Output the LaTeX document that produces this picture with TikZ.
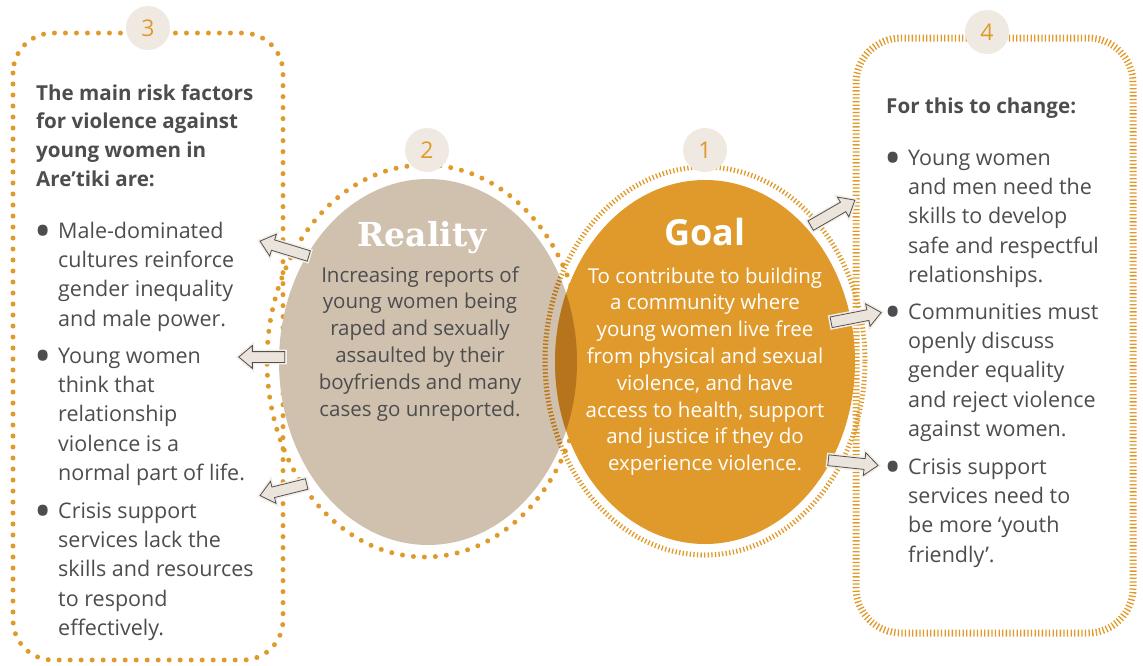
\documentclass[tikz,border=0pt]{standalone}
\usepackage{fontspec}
\setmainfont{Open Sans}
\newfontfamily\slabfont{DejaVu Serif}
\usetikzlibrary{shapes.arrows}
\definecolor{amber}{HTML}{E09A2B}
\definecolor{lens}{HTML}{B6741D}
\definecolor{sand}{HTML}{CFC1AD}
\definecolor{badgefill}{HTML}{EFE9E2}
\definecolor{inkgray}{HTML}{4D4D4F}
\definecolor{arrowfill}{HTML}{EAE4DC}
\definecolor{arrowline}{HTML}{55504B}
\definecolor{arrowhalo}{HTML}{F1EDE7}
\newcommand{\bulletmark}{\llap{\raisebox{-9.3pt}{\fontsize{46}{46}\selectfont\textbullet}\hspace{6pt}}}

\begin{document}
\begin{tikzpicture}[x=1pt,y=-1pt,
  dotline/.style={draw=amber, line width=5pt, line cap=round, dash pattern=on 0pt off 11pt},
  hatchline/.style={draw=amber, line width=#1, dash pattern=on 1.3pt off 2.3pt},
  badge/.style={circle, fill=badgefill, minimum size=44pt, inner sep=0pt, text=amber, font=\fontsize{23}{23}\selectfont},
  sidetext/.style={anchor=north west, align=left, inner sep=0pt, text=inkgray, font=\fontsize{21.5}{29.4}\selectfont},
  headtext/.style={sidetext, font=\bfseries\fontsize{20.6}{28.8}\selectfont},
  circtext/.style={anchor=north, align=center, inner sep=0pt, font=\fontsize{20.5}{26.8}\selectfont},
  flowarrow/.style={single arrow, draw=arrowline, fill=arrowfill, line width=0.8pt, inner sep=0pt, inner ysep=5pt,
    single arrow head extend=6pt, single arrow tip angle=80, minimum height=#1, preaction={draw=arrowhalo, line width=4pt}}
]
\useasboundingbox (0,0) rectangle (1143,665);

% side boxes
\draw[dotline, rounded corners=40pt] (13,33) rectangle (283,660);
\draw[hatchline=7pt, rounded corners=45pt] (856,38) rectangle (1133,633);

% reality and goal
\fill[sand] (428,362) ellipse [x radius=149pt, y radius=183pt];
\fill[amber] (705,362) ellipse [x radius=150pt, y radius=182pt];
\draw[hatchline=5pt] (705,361) ellipse [x radius=160pt, y radius=194pt];
\begin{scope}
  \clip (428,362) ellipse [x radius=149pt, y radius=183pt];
  \fill[lens] (705,362) ellipse [x radius=150pt, y radius=182pt];
  \draw[hatchline=5pt, draw=lens] (705,361) ellipse [x radius=160pt, y radius=194pt];
\end{scope}
\draw[dotline] (425,361) ellipse [x radius=158pt, y radius=196pt];

% numbers
\node[badge] (b1) at (705,150) {1};
\node[badge] (b2) at (427,150) {2};
\node[badge] (b3) at (148,28) {3};
\node[badge] (b4) at (987,32) {4};

% circle texts
\node[font=\slabfont\bfseries\fontsize{33}{33}\selectfont, text=white, anchor=base] (reality) at (422,246) {Reality};
\node[font=\bfseries\fontsize{36}{36}\selectfont, text=white, anchor=base] (goal) at (705,245) {Goal};
\node[circtext, text=inkgray] (realitytxt) at (420,263.2) {\strut Increasing reports of\\young women being\\raped and sexually\\assaulted by their\\boyfriends and many\\cases go unreported.};
\node[circtext, text=white] (goaltxt) at (705,264.2) {\strut To contribute to building\\a community where\\young women live free\\from physical and sexual\\violence, and have\\access to health, support\\and justice if they do\\experience violence.};

% risk factors
\node[headtext] (riskhead) at (36,79.8) {\strut The main risk factors\\for violence against\\young women in\\Are’tiki are:};
\node[sidetext] (risk1) at (58,217.4) {\strut\bulletmark Male-dominated\\cultures reinforce\\gender inequality\\and male power.};
\node[sidetext] (risk2) at (58,342.4) {\strut\bulletmark Young women\\think that\\relationship\\violence is a\\normal part of life.};
\node[sidetext] (risk3) at (58,497.4) {\strut\bulletmark Crisis support\\services lack the\\skills and resources\\to respond\\effectively.};

% changes
\node[headtext] (changehead) at (886,92.8) {\strut For this to change:};
\node[sidetext] (change1) at (908,144.4) {\strut\bulletmark Young women\\and men need the\\skills to develop\\safe and respectful\\relationships.};
\node[sidetext] (change2) at (908,298.4) {\strut\bulletmark Communities must\\openly discuss\\gender equality\\and reject violence\\against women.};
\node[sidetext] (change3) at (908,453.4) {\strut\bulletmark Crisis support\\services need to\\be more ‘youth\\friendly’.};

% arrows
\node[flowarrow=51pt, rotate=163] (al1) at (287.5,249.5) {};
\node[flowarrow=46pt, rotate=180] (al2) at (265,357) {};
\node[flowarrow=48pt, rotate=194] (al3) at (286.5,489) {};
\node[flowarrow=51pt, rotate=30] (ar1) at (830,214.5) {};
\node[flowarrow=51pt, rotate=11] (ar2) at (853,318) {};
\node[flowarrow=50pt, rotate=-6] (ar3) at (850,462.5) {};
\end{tikzpicture}
\end{document}
